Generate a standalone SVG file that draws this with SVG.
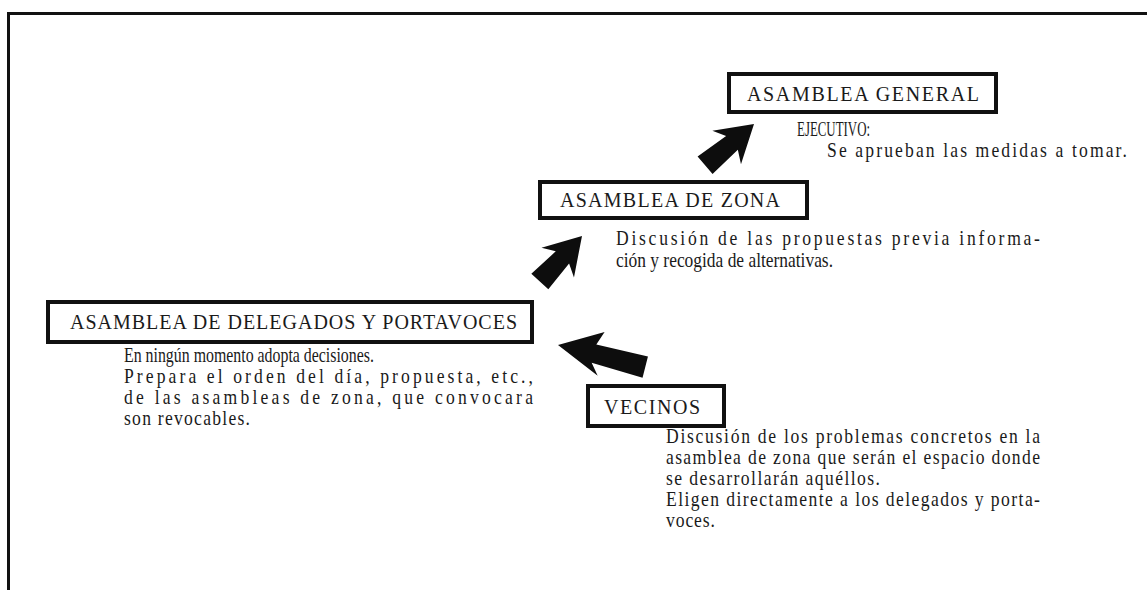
<svg xmlns="http://www.w3.org/2000/svg" width="1147" height="590" viewBox="0 0 1147 590">
<style>
.frame{fill:none;stroke:#111;stroke-width:3}
.box{fill:#fff;stroke:#111;stroke-width:4}
.h{font-family:"Liberation Serif","Times New Roman",serif;font-size:20px;fill:#1a1a1a}
.t{font-family:"Liberation Serif","Times New Roman",serif;font-size:20px;fill:#1a1a1a}
.arrow{fill:#0d0d0d}
</style>
<rect width="1147" height="590" fill="#fff"/>
<path class="frame" d="M8.5 590 V13.5 H1147"/>
<g id="connectors">
<polygon class="arrow" points="0,0 -36,-22 -29,-9 -64,-12 -64,11 -29,9 -36,22" transform="translate(754,124) rotate(-40.6)"/>
<polygon class="arrow" points="0,0 -36,-22 -29,-9 -62,-12 -62,11 -29,9 -36,22" transform="translate(582,236) rotate(-47.6)"/>
<polygon class="arrow" points="0,0 -46,-20 -37,-9 -90,-11 -90,11 -37,10 -42,24" transform="translate(558,345) rotate(194.2)"/>
</g>
<g id="general">
<rect class="box" x="729" y="74" width="267" height="38"/>
<text class="h" x="747" y="101" textLength="232" lengthAdjust="spacing">ASAMBLEA GENERAL</text>
<g transform="scale(0.88,1)">
<text class="t" x="905.7" y="136" textLength="83" lengthAdjust="spacingAndGlyphs">EJECUTIVO:</text>
<text class="t" x="939.8" y="157" textLength="340.9" lengthAdjust="spacing">Se aprueban las medidas a tomar.</text>
</g>
</g>
<g id="zona">
<rect class="box" x="540" y="182" width="267" height="36"/>
<text class="h" x="560" y="207" textLength="220" lengthAdjust="spacing">ASAMBLEA DE ZONA</text>
<g transform="scale(0.88,1)">
<text class="t" x="700" y="245" textLength="481.8" lengthAdjust="spacing">Discusión de las propuestas previa informa-</text>
<text class="t" x="700" y="267" textLength="246.6" lengthAdjust="spacingAndGlyphs">ción y recogida de alternativas.</text>
</g>
</g>
<g id="delegados">
<rect class="box" x="48" y="302" width="484" height="40"/>
<text class="h" x="70" y="329" textLength="447" lengthAdjust="spacing">ASAMBLEA DE DELEGADOS Y PORTAVOCES</text>
<g transform="scale(0.88,1)">
<text class="t" x="140.9" y="362" textLength="284" lengthAdjust="spacingAndGlyphs">En ningún momento adopta decisiones.</text>
<text class="t" x="140.9" y="383" textLength="464.8" lengthAdjust="spacing">Prepara el orden del día, propuesta, etc.,</text>
<text class="t" x="140.9" y="404" textLength="464.8" lengthAdjust="spacing">de las asambleas de zona, que convocara</text>
<text class="t" x="140.9" y="425" textLength="143.2" lengthAdjust="spacing">son revocables.</text>
</g>
</g>
<g id="vecinos">
<rect class="box" x="588" y="386" width="136" height="40"/>
<text class="h" x="604" y="414" textLength="96" lengthAdjust="spacing">VECINOS</text>
<g transform="scale(0.88,1)">
<text class="t" x="756.8" y="443" textLength="425" lengthAdjust="spacing">Discusión de los problemas concretos en la</text>
<text class="t" x="756.8" y="464" textLength="425" lengthAdjust="spacing">asamblea de zona que serán el espacio donde</text>
<text class="t" x="756.8" y="485" textLength="243.2" lengthAdjust="spacing">se desarrollarán aquéllos.</text>
<text class="t" x="756.8" y="506" textLength="425" lengthAdjust="spacing">Eligen directamente a los delegados y porta-</text>
<text class="t" x="756.8" y="527" textLength="55.7" lengthAdjust="spacing">voces.</text>
</g>
</g>
</svg>
